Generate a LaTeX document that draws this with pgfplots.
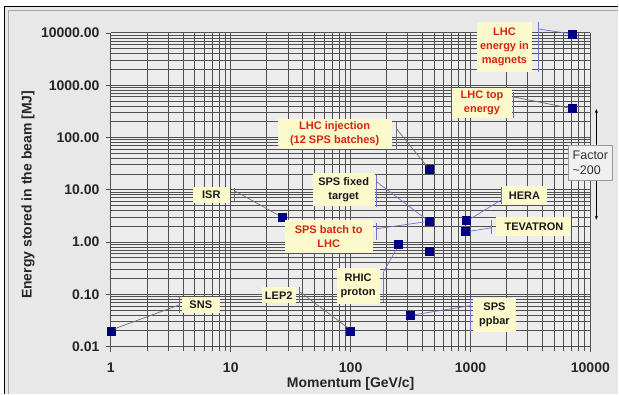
\documentclass[border=0pt]{standalone}
\usepackage{fontspec}
\setmainfont{Liberation Sans}
\usepackage{pgfplots}
\pgfplotsset{compat=1.18}
\usetikzlibrary{arrows.meta}
\definecolor{chartbg}{RGB}{232,232,232}
\definecolor{plotbg}{RGB}{237,237,237}
\definecolor{gridc}{RGB}{80,80,80}
\definecolor{navy}{RGB}{0,0,128}
\definecolor{lblbg}{RGB}{252,250,204}
\definecolor{lblred}{RGB}{215,35,15}
\definecolor{leadgray}{RGB}{110,110,110}
\definecolor{leadblue}{RGB}{115,115,200}
\begin{document}
\begin{tikzpicture}
\fill[white] (-111pt,-47pt) rectangle (508pt,347pt);
\fill[chartbg] (-106.4pt,-47pt) rectangle (508pt,340.4pt);
\draw[black, line width=1.3pt] (-106.4pt,-47pt) -- (-106.4pt,340.4pt) -- (508pt,340.4pt);
\draw[gray!70, line width=0.6pt] (-103pt,-47pt) -- (-103pt,337pt) -- (508pt,337pt);
\begin{axis}[
  at={(0,0)}, anchor=south west,
  scale only axis, width=480pt, height=314pt,
  xmode=log, ymode=log,
  xmin=1, xmax=10000, ymin=0.01, ymax=10000,
  xtick={1,10,100,1000,10000},
  xticklabels={1,10,100,1000,10000},
  ytick={0.01,0.1,1,10,100,1000,10000},
  yticklabels={0.01,0.10,1.00,10.00,100.00,1000.00,10000.00},
  grid=both,
  major grid style={gridc, line width=1pt},
  minor grid style={gridc, line width=0.9pt},
  axis background/.style={fill=plotbg},
  axis lines*=left,
  axis line style={gridc, line width=1pt},
  tick align=outside, major tick length=5pt, minor tick length=4pt,
  tick style={gridc, line width=0.9pt},
  minor y tick style={draw=none},
  ticklabel style={font=\fontsize{14}{16}\selectfont\bfseries, text=black!85},
  xticklabel style={yshift=-8pt},
  yticklabel style={xshift=-3pt},
  xlabel={Momentum [GeV/c]},
  ylabel={Energy stored in the beam [MJ]},
  label style={font=\fontsize{14}{16}\selectfont\bfseries, text=black!85},
  xlabel style={at={(axis description cs:0.5,-0.118)}, anchor=center},
  ylabel style={at={(axis description cs:-0.173,0.484)}, anchor=center},
  clip=false,
]
\addplot[only marks, mark=square*, mark size=4pt, mark options={fill=navy, draw=navy}]
coordinates {
(1,0.02) (27,3.0) (100,0.02) (315,0.04) (250,0.9) (450,2.5) (450,0.67)
(450,25) (920,2.6) (910,1.6) (7000,360) (7000,9500)
};
\end{axis}
\begin{scope}[x=1pt, y=-1pt, shift={(-111pt,347pt)}]
\tikzset{
  lbl/.style={fill=lblbg, inner sep=0pt, align=center,
    font=\fontsize{11}{14}\selectfont\bfseries, text=black!90},
  red/.style={text=lblred},
  lg/.style={leadgray, line width=0.7pt},
  lb/.style={leadblue, line width=0.7pt}
}
% leaders
\draw[lb] (539,22) -- (539,72); \draw[lb] (539,29) -- (569,33.5);
\draw[lg] (514,92) -- (514,118); \draw[lg] (514,97) -- (569,108);
\draw[lg] (397,122) -- (397,150); \draw[lg] (397,129) -- (427,166);
\draw[lb] (377,175) -- (377,207); \draw[lb] (377,182) -- (426,219);
\draw[lb] (377,223) -- (377,240); \draw[lb] (377,229) -- (426,222);
\draw[lg] (235,188) -- (235,202); \draw[lg] (235,191) -- (278,215);
\draw[lg] (180,297) -- (180,313); \draw[lg] (180,305) -- (115,329);
\draw[lg] (300,287) -- (300,303); \draw[lg] (300,292) -- (348,328);
\draw[lb] (471,298) -- (471,332); \draw[lb] (471,306) -- (415,315);
\draw[lb] (384,272) -- (384,302); \draw[lb] (384,272) -- (397,249);
\draw[lb] (502,187) -- (502,204); \draw[lb] (502,200) -- (471,219);
\draw[lb] (492,220) -- (492,234); \draw[lb] (492,228) -- (470,231.5);
% labels
\node[lbl, red, minimum width=56pt, minimum height=50pt] at (505,47) {LHC\\energy in\\magnets};
\node[lbl, red, minimum width=61pt, minimum height=30pt] at (482.5,103) {LHC top\\energy};
\node[lbl, red, minimum width=114pt, minimum height=30pt] at (335,134) {LHC injection\\(12 SPS batches)};
\node[lbl, minimum width=62pt, minimum height=33pt] at (344,189.5) {SPS fixed\\target};
\node[lbl, red, minimum width=88pt, minimum height=33pt] at (329,236.5) {SPS batch to\\LHC};
\node[lbl, minimum width=37pt, minimum height=16pt] at (211.5,195) {ISR};
\node[lbl, minimum width=38pt, minimum height=16pt] at (201,305) {SNS};
\node[lbl, minimum width=34pt, minimum height=16pt] at (279,295.5) {LEP2};
\node[lbl, minimum width=44pt, minimum height=34pt] at (495,315) {SPS\\ppbar};
\node[lbl, minimum width=43pt, minimum height=36pt] at (358.5,286) {RHIC\\proton};
\node[lbl, minimum width=45pt, minimum height=19pt] at (525,196) {HERA};
\node[lbl, minimum width=75pt, minimum height=19pt] at (534.5,227) {TEVATRON};
% factor arrow and box
\draw[black, line width=0.7pt, {Stealth[length=4pt,width=3pt]}-{Stealth[length=4pt,width=3pt]}] (597,109) -- (597,220);
\node[fill=white!94!black, draw=gray!80, line width=0.6pt, inner sep=0pt,
  minimum width=44pt, minimum height=35pt, align=left,
  font=\fontsize{12.5}{15}\selectfont, text=black!80] at (591,162.5) {Factor\\\textasciitilde200};
\end{scope}
\end{tikzpicture}
\end{document}
